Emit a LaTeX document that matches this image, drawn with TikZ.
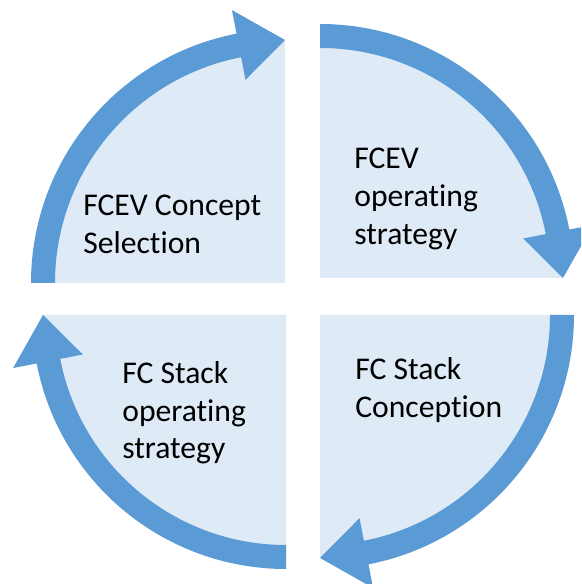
\documentclass[tikz,border=0pt]{standalone}
\usepackage{fontspec}
\setmainfont{Carlito}[Ligatures=NoCommon]
\usepackage{tikz}

\definecolor{bandblue}{HTML}{5B9BD5}
\definecolor{paleblue}{HTML}{DEEBF7}

\tikzset{
  sector/.style={fill=paleblue},
  band/.style={fill=bandblue},
  lbl/.style={anchor=north west, inner sep=0pt, align=left,
    font=\fontsize{18}{21.5}\selectfont}
}

\begin{document}
\begin{tikzpicture}[x=0.02cm, y=0.02cm]
  \clip (0,0) rectangle (581,584);
  \fill[white] (0,0) rectangle (581,584);

  % corners of the four quarters
  \coordinate (tl) at (285,301);
  \coordinate (tr) at (320,306);
  \coordinate (br) at (320,269);
  \coordinate (bl) at (286,269);

  % quarters
  \fill[sector] (tl) -- ++(180:243) arc[start angle=180, end angle=90, radius=243] -- cycle;
  \fill[sector] (tr) -- ++(90:243) arc[start angle=90, end angle=0, radius=243] -- cycle;
  \fill[sector] (br) -- ++(0:243) arc[start angle=0, end angle=-90, radius=243] -- cycle;
  \fill[sector] (bl) -- ++(-90:243) arc[start angle=-90, end angle=-180, radius=243] -- cycle;

  % cycle arrows
  \fill[band, shift={(tl)}] (180:254) arc[start angle=180, end angle=101, radius=254]
    -- (101:278) -- (90:243) -- (101:207) -- (101:230)
    arc[start angle=101, end angle=180, radius=230] -- cycle;
  \fill[band, shift={(tr)}] (90:254) arc[start angle=90, end angle=11, radius=254]
    -- (11:278) -- (0:243) -- (11:207) -- (11:230)
    arc[start angle=11, end angle=90, radius=230] -- cycle;
  \fill[band, shift={(br)}] (0:254) arc[start angle=0, end angle=-79, radius=254]
    -- (-79:278) -- (-90:243) -- (-79:207) -- (-79:230)
    arc[start angle=-79, end angle=0, radius=230] -- cycle;
  \fill[band, shift={(bl)}] (-90:254) arc[start angle=-90, end angle=-169, radius=254]
    -- (-169:278) -- (-180:243) -- (-169:207) -- (-169:230)
    arc[start angle=-169, end angle=-90, radius=230] -- cycle;

  % labels
  \node[lbl] (sel) at (83,389) {FCEV Concept\\Selection};
  \node[lbl] (fcevop) at (354,436) {FCEV\\operating\\strategy};
  \node[lbl] (stackcon) at (355,227) {FC Stack\\Conception};
  \node[lbl] (stackop) at (122,223) {FC Stack\\operating\\strategy};
\end{tikzpicture}
\end{document}
